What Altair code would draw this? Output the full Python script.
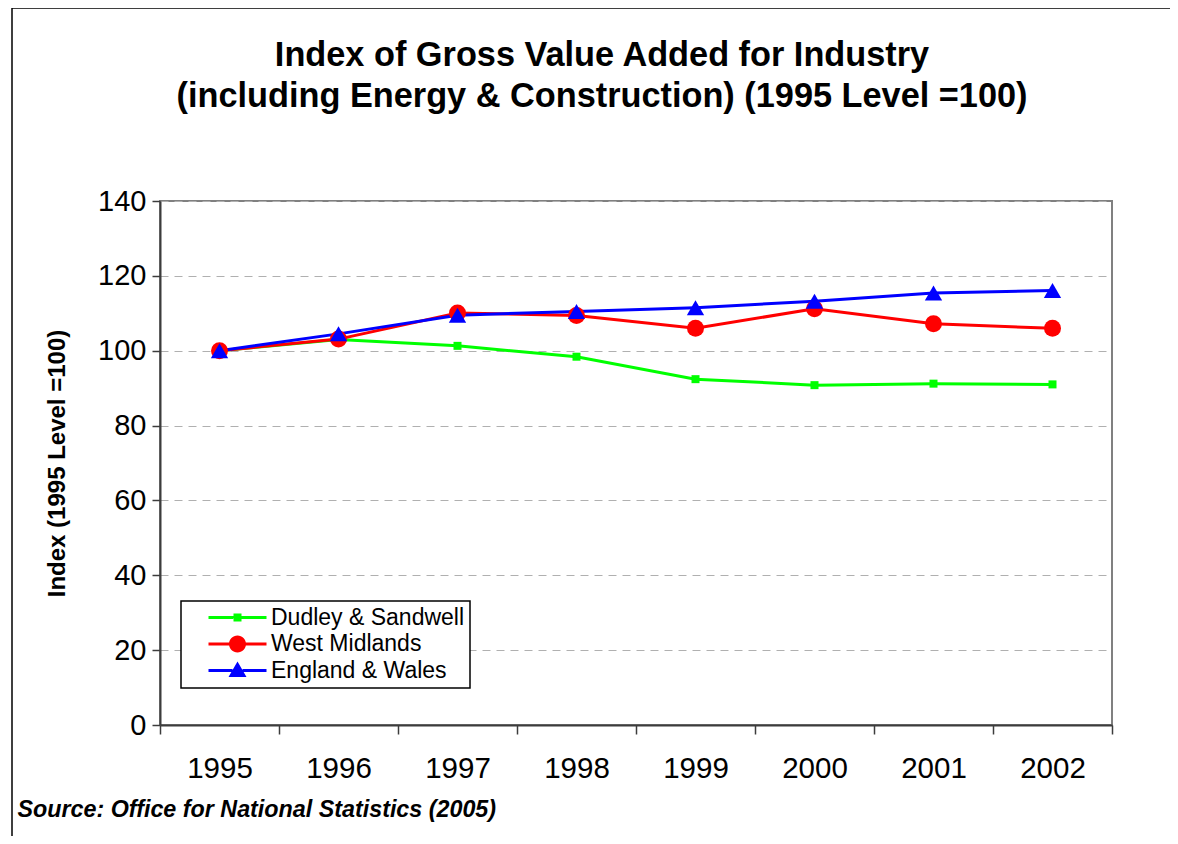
import altair as alt
import pandas as pd

# ---- data ----
years = [1995, 1996, 1997, 1998, 1999, 2000, 2001, 2002]
series_names = ["Dudley & Sandwell", "West Midlands", "England & Wales"]
dudley = [100.0, 103.0, 101.3, 98.4, 92.4, 90.8, 91.2, 91.0]
west_midlands = [100.0, 103.1, 110.1, 109.4, 106.0, 111.2, 107.2, 106.0]
england_wales = [100.0, 104.5, 109.5, 110.5, 111.5, 113.2, 115.4, 116.1]
series_colors = ["#00FF00", "#FF0000", "#0000FF"]
marker_shapes = ["square", "circle", "triangle-up"]
marker_sizes = [64, 289, 300]
y_ticks = [0, 20, 40, 60, 80, 100, 120, 140]

title_lines = ["Index of Gross Value Added for Industry",
               "(including Energy & Construction) (1995 Level =100)"]
y_title = "Index (1995 Level =100)"
source_text = "Source: Office for National Statistics (2005)"

# legend symbols: a line with the marker in its middle (custom SVG paths)
legend_paths = [
    "M-2.9,-0.15H-0.4V0.15H-2.9Z M0.4,-0.15H2.9V0.15H0.4Z M-0.4,-0.4H0.4V0.4H-0.4Z",
    "M-2.9,-0.15H-0.8V0.15H-2.9Z M0.8,-0.15H2.9V0.15H0.8Z "
    "M-0.85,0A0.85,0.85 0 1,1 0.85,0A0.85,0.85 0 1,1 -0.85,0Z",
    "M-2.9,-0.15H-0.5V0.15H-2.9Z M0.5,-0.15H2.9V0.15H0.5Z M0,-0.9L0.9,0.65H-0.9Z",
]

rows = []
for name, vals in zip(series_names, [dudley, west_midlands, england_wales]):
    for yr, v in zip(years, vals):
        rows.append({"year": yr, "value": v, "series": name})
df = pd.DataFrame(rows)

FONT = "Liberation Sans"
AXIS_DARK = "#3c3c3c"

color_scale = alt.Scale(domain=series_names, range=series_colors)

x_enc = alt.X(
    "year:O",
    scale=alt.Scale(type="band", paddingInner=0, paddingOuter=0),
    axis=alt.Axis(
        labelAngle=0, labelFont=FONT, labelFontSize=29.5, labelColor="black",
        labelPadding=20, tickBand="extent", tickSize=9, tickColor=AXIS_DARK,
        tickWidth=1.5, domainColor=AXIS_DARK, domainWidth=2, grid=False,
        title=source_text, titleFont=FONT, titleFontSize=23.3,
        titleFontWeight="bold", titleFontStyle="italic", titleColor="black",
        titleAlign="left", titleX=-143, titleY=91, titleBaseline="alphabetic",
    ),
)
y_enc = alt.Y(
    "value:Q",
    scale=alt.Scale(domain=[0, 140], nice=False),
    axis=alt.Axis(
        values=y_ticks, labelFont=FONT, labelFontSize=29, labelColor="black",
        labelPadding=6, tickSize=8, tickColor=AXIS_DARK, tickWidth=1.5,
        domainColor=AXIS_DARK, domainWidth=2, grid=True, gridColor="#b0b0b0",
        gridDash=[8, 6], gridWidth=1,
        title=y_title, titleFont=FONT, titleFontSize=24, titleFontWeight="bold",
        titleColor="black", titlePadding=28,
    ),
)

base = alt.Chart(df)

# the blank right-hand "title" only widens the legend box to the reference's width
legend_props = dict(
    orient="none", legendX=21, legendY=400,
    title="\u2003", titleOrient="right", titleFontSize=17, titlePadding=0,
    titleFont=FONT,
    direction="vertical", fillColor="white", strokeColor="black",
    padding=5, rowPadding=2.5, symbolSize=400, symbolOffset=40,
    symbolStrokeWidth=0, symbolOpacity=1, labelOffset=22,
    labelFont=FONT, labelFontSize=23, labelColor="black", labelLimit=400,
)

# legend-only layer (no marks drawn): line + marker symbols per series
legend_layer = base.transform_filter("false").mark_point(
    filled=True, opacity=1, strokeWidth=0
).encode(
    color=alt.Color("series:N", scale=color_scale, legend=alt.Legend(**legend_props)),
    shape=alt.Shape("series:N", scale=alt.Scale(domain=series_names, range=legend_paths),
                    legend=alt.Legend(**legend_props)),
)

frame = alt.Chart(alt.Data(values=[{}])).mark_rect(
    fillOpacity=0, stroke="black", strokeWidth=1.5
).encode(
    x=alt.value(-148), x2=alt.value(1200), y=alt.value(-193), y2=alt.value(900)
)

lines = base.mark_line(strokeWidth=3).encode(
    x=x_enc, y=y_enc,
    color=alt.Color("series:N", scale=color_scale),
)

marker_layers = []
for name, shp, sz in zip(series_names, marker_shapes, marker_sizes):
    marker_layers.append(
        base.transform_filter(alt.datum.series == name).mark_point(
            filled=True, opacity=1, strokeWidth=0, shape=shp, size=sz
        ).encode(
            x=x_enc, y=y_enc,
            color=alt.Color("series:N", scale=color_scale),
        )
    )

chart = alt.layer(legend_layer, frame, lines, *marker_layers).properties(
    width=952, height=524,
    title=alt.TitleParams(
        text=title_lines, font=FONT, fontSize=34.3, fontWeight="bold",
        color="black", anchor="middle", frame="group", dx=-34, offset=-133.75,
        baseline="alphabetic", lineHeight=41,
    ),
    autosize=alt.AutoSizeParams(type="none"),
    padding={"left": 152, "top": 193, "right": 58, "bottom": 111},
).configure_view(
    stroke="#808080", strokeWidth=2
).configure_legend(
    strokeWidth=1.5
)

chart.save("out.html", embed_options={"renderer": "svg", "actions": False})
